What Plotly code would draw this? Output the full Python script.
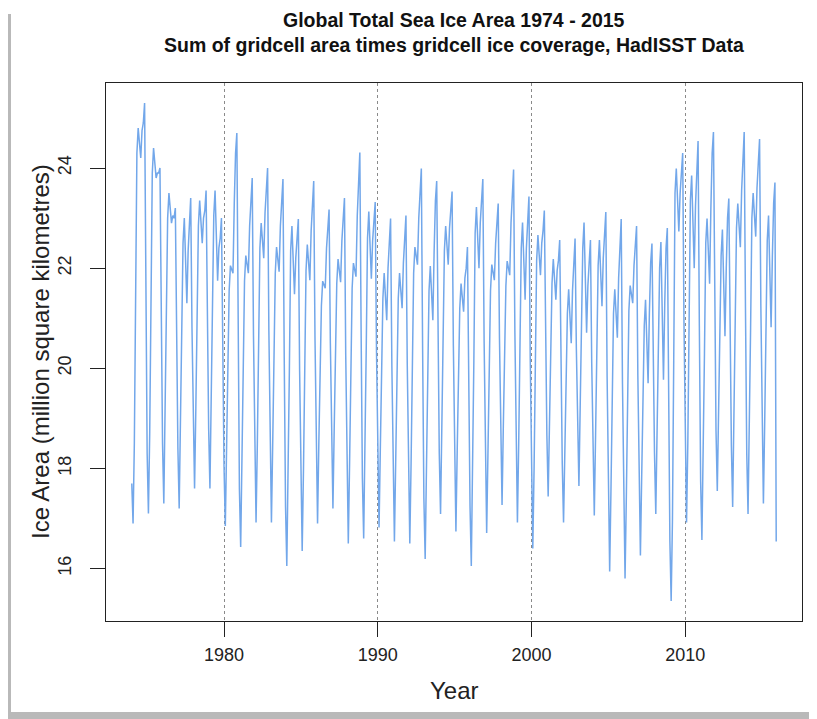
import plotly.graph_objects as go

# Monthly global sea-ice area (million km^2), Jan..Dec per row
area_1974_1979 = [
    17.7, 16.9, 18.5, 21.4, 24.3, 24.8, 24.5, 24.2, 24.75, 24.9, 25.3, 21.5,   # 1974
    18.3, 17.1, 18.7, 21.3, 23.9, 24.4, 24.1, 23.8, 23.9, 23.9, 24.0, 21.0,    # 1975
    18.5, 17.3, 18.9, 20.9, 23.0, 23.5, 23.2, 22.9, 23.05, 23.0, 23.2, 20.5,   # 1976
    18.4, 17.2, 18.8, 20.6, 22.5, 23.0, 22.15, 21.3, 22.35, 23.0, 23.4, 20.8,  # 1977
    18.8, 17.6, 19.2, 21.0, 22.85, 23.35, 22.9, 22.5, 23.0, 23.15, 23.55, 20.9,  # 1978
    18.8, 17.6, 19.2, 21.1, 23.05, 23.55, 22.65, 21.75, 22.4, 22.6, 23.0, 20.2,  # 1979
]
area_1980_1989 = [
    18.05, 16.85, 18.45, 19.95, 21.55, 22.05, 21.95, 21.9, 23.3, 24.3, 24.7, 20.85,  # 1980
    17.6, 16.43, 18.0, 19.85, 21.75, 22.25, 22.05, 21.9, 22.85, 23.4, 23.8, 20.65,   # 1981
    18.1, 16.92, 18.5, 20.4, 22.4, 22.9, 22.55, 22.2, 23.1, 23.6, 24.0, 20.75,       # 1982
    18.1, 16.92, 18.5, 20.2, 21.9, 22.42, 22.2, 21.93, 22.85, 23.4, 23.78, 20.2,     # 1983
    17.25, 16.05, 17.65, 19.95, 22.35, 22.84, 22.15, 21.48, 22.2, 22.6, 22.98, 19.95,  # 1984
    17.55, 16.35, 17.95, 19.9, 21.95, 22.47, 22.1, 21.76, 22.75, 23.35, 23.74, 20.6,   # 1985
    18.1, 16.9, 18.5, 19.8, 21.25, 21.74, 21.67, 21.6, 22.4, 22.8, 23.17, 20.5,        # 1986
    18.4, 17.2, 18.8, 20.2, 21.7, 22.18, 21.95, 21.72, 22.55, 23.0, 23.4, 20.25,       # 1987
    17.7, 16.5, 18.1, 19.8, 21.6, 22.1, 21.95, 21.83, 23.05, 23.9, 24.31, 20.75,       # 1988
    17.8, 16.6, 18.2, 20.4, 22.6, 23.13, 22.45, 21.79, 22.55, 22.9, 23.32, 20.35,      # 1989
]
area_1990_1999 = [
    18.0, 16.82, 18.4, 19.85, 21.4, 21.9, 21.45, 20.96, 22.0, 22.6, 22.99, 20.05,     # 1990
    17.75, 16.54, 18.15, 19.7, 21.4, 21.9, 21.55, 21.2, 22.1, 22.65, 23.05, 20.1,     # 1991
    17.7, 16.5, 18.1, 19.95, 21.9, 22.42, 22.25, 22.07, 23.0, 23.6, 23.99, 20.4,      # 1992
    17.4, 16.19, 17.8, 19.6, 21.55, 22.04, 21.5, 20.96, 22.35, 23.35, 23.74, 20.7,    # 1993
    18.3, 17.09, 18.7, 20.45, 22.35, 22.84, 22.45, 22.07, 22.8, 23.15, 23.53, 20.45,  # 1994
    17.95, 16.74, 18.35, 19.7, 21.2, 21.69, 21.4, 21.13, 21.8, 22.0, 22.42, 19.55,    # 1995
    17.25, 16.05, 17.65, 20.15, 22.7, 23.22, 22.6, 22.0, 22.9, 23.4, 23.78, 20.55,    # 1996
    17.9, 16.71, 18.3, 19.9, 21.55, 22.07, 21.9, 21.76, 22.5, 22.9, 23.29, 20.6,      # 1997
    18.45, 17.27, 18.85, 20.2, 21.65, 22.14, 22.0, 21.86, 22.9, 23.55, 23.97, 20.75,  # 1998
    18.1, 16.92, 18.5, 20.4, 22.4, 22.91, 22.15, 21.37, 22.4, 23.0, 23.43, 20.2,      # 1999
]
area_2000_2009 = [
    17.6, 16.4, 18.0, 20.05, 22.15, 22.66, 22.25, 21.86, 22.5, 22.75, 23.15, 20.6,    # 2000
    18.65, 17.44, 19.05, 20.3, 21.7, 22.18, 21.8, 21.37, 21.95, 22.15, 22.56, 20.05,  # 2001
    18.1, 16.92, 18.5, 19.75, 21.1, 21.58, 21.05, 20.5, 21.55, 22.2, 22.59, 20.4,     # 2002
    18.85, 17.65, 19.25, 20.8, 22.4, 22.91, 21.8, 20.71, 21.65, 22.15, 22.56, 20.1,   # 2003
    18.25, 17.06, 18.65, 20.3, 22.05, 22.56, 21.9, 21.24, 22.2, 22.7, 23.12, 19.85,   # 2004
    17.15, 15.94, 17.55, 19.25, 21.1, 21.58, 21.1, 20.61, 21.8, 22.6, 22.98, 19.7,    # 2005
    17.0, 15.8, 17.4, 19.2, 21.15, 21.65, 21.5, 21.3, 22.05, 22.45, 22.84, 19.85,     # 2006
    17.45, 16.26, 17.85, 19.3, 20.85, 21.37, 20.55, 19.7, 21.1, 22.1, 22.49, 20.1,    # 2007
    18.3, 17.09, 18.7, 20.3, 22.0, 22.52, 21.15, 19.77, 21.3, 22.4, 22.8, 19.4,       # 2008
    16.55, 15.35, 16.95, 20.15, 23.5, 23.99, 23.35, 22.73, 23.5, 23.9, 24.3, 20.9,    # 2009
]
area_2010_2015 = [
    18.1, 16.92, 18.5, 20.9, 23.35, 23.85, 22.9, 22.0, 23.25, 24.15, 24.54, 20.85,    # 2010
    17.75, 16.57, 18.15, 20.3, 22.5, 22.99, 22.35, 21.69, 23.2, 24.3, 24.72, 21.45,   # 2011
    18.75, 17.55, 19.15, 20.65, 22.25, 22.77, 21.7, 20.64, 22.0, 23.0, 23.39, 20.6,   # 2012
    18.45, 17.23, 18.85, 20.75, 22.8, 23.29, 22.85, 22.42, 23.55, 24.3, 24.72, 21.2,  # 2013
    18.3, 17.09, 18.7, 20.8, 23.0, 23.5, 23.05, 22.63, 23.6, 24.2, 24.58, 21.25,      # 2014
    18.5, 17.3, 18.9, 20.7, 22.55, 23.05, 21.95, 20.82, 22.25, 23.3, 23.71, 16.54,    # 2015
]

first_year = 1974
x_ticks = [1980, 1990, 2000, 2010]
y_ticks = [16, 18, 20, 22, 24]
title_lines = ["Global Total Sea Ice Area 1974 - 2015",
               "Sum of gridcell area times gridcell ice coverage, HadISST Data"]
x_title = "Year"
y_title = "Ice Area (million square kilometres)"

area = area_1974_1979 + area_1980_1989 + area_1990_1999 + area_2000_2009 + area_2010_2015
years = [first_year + i / 12 for i in range(len(area))]

fig = go.Figure()
fig.add_trace(go.Scatter(
    x=years, y=area, mode="lines",
    line=dict(color="#72a7ea", width=1.5),
    hoverinfo="skip", showlegend=False,
))

# R-style 4% axis padding
xmin, xmax = years[0], years[-1]
ymin, ymax = min(area), max(area)
xpad = 0.04 * (xmax - xmin)
ypad = 0.04 * (ymax - ymin)

FONT = "Liberation Sans, Arial, Helvetica, sans-serif"

# The page body adds an 8px offset, so the figure is 8px smaller than the window
W, H = 809, 711
L, T, R, B = 98, 75, 15, 98
PW, PH = W - L - R, H - T - B
def px(xp):
    return (xp - L) / PW
def py(yp):
    return 1 - (yp - T) / PH

fig.update_layout(
    width=W, height=H,
    paper_bgcolor="white", plot_bgcolor="white",
    margin=dict(l=L, r=R, t=T, b=B, autoexpand=False),
    font=dict(family=FONT, color="#222222"),
    xaxis=dict(
        range=[xmin - xpad, xmax + xpad],
        tickvals=x_ticks, ticktext=[str(v) for v in x_ticks],
        ticks="outside", ticklen=15, tickwidth=1, tickcolor="#222",
        showline=True, mirror=True, linecolor="#222", linewidth=1,
        showgrid=True, gridcolor="#8a8a8a", griddash="dot", gridwidth=1,
        zeroline=False,
        tickfont=dict(size=18),
        ticklabelstandoff=2,
    ),
    yaxis=dict(
        range=[ymin - ypad, ymax + ypad],
        tickvals=y_ticks, ticktext=[str(v) for v in y_ticks],
        ticks="outside", ticklen=15, tickwidth=1, tickcolor="#222",
        showline=True, mirror=True, linecolor="#222", linewidth=1,
        showgrid=False, zeroline=False,
        tickangle=-90,
        tickfont=dict(size=18),
        ticklabelstandoff=12,
    ),
)

# Titles placed at the reference's pixel positions (figure coords = window - 8)
fig.add_annotation(text="<b>%s</b>" % title_lines[0], xref="paper", yref="paper",
                   x=0.5, y=py(12), xanchor="center", yanchor="middle",
                   showarrow=False, font=dict(size=19.5, color="#111111"))
fig.add_annotation(text="<b>%s</b>" % title_lines[1], xref="paper", yref="paper",
                   x=0.5, y=py(37), xanchor="center", yanchor="middle",
                   showarrow=False, font=dict(size=19.5, color="#111111"))
fig.add_annotation(text=x_title, xref="paper", yref="paper",
                   x=0.5, y=py(682), xanchor="center", yanchor="middle",
                   showarrow=False, font=dict(size=24, color="#222222"))
fig.add_annotation(text=y_title, xref="paper", yref="paper",
                   x=px(32), y=py((75 + 613) / 2), xanchor="center", yanchor="middle",
                   textangle=-90, showarrow=False, font=dict(size=24, color="#222222"))

# Screenshot-like frame: soft shadow on the left and bottom
fig.add_shape(type="rect", xref="paper", yref="paper",
              x0=px(0), x1=px(3), y0=py(H), y1=py(6),
              fillcolor="#b9b9b9", line=dict(width=0), layer="below")
fig.add_shape(type="rect", xref="paper", yref="paper",
              x0=px(0), x1=px(W), y0=py(H), y1=py(H - 7),
              fillcolor="#b9b9b9", line=dict(width=0), layer="below")

fig.write_html("out.html")
